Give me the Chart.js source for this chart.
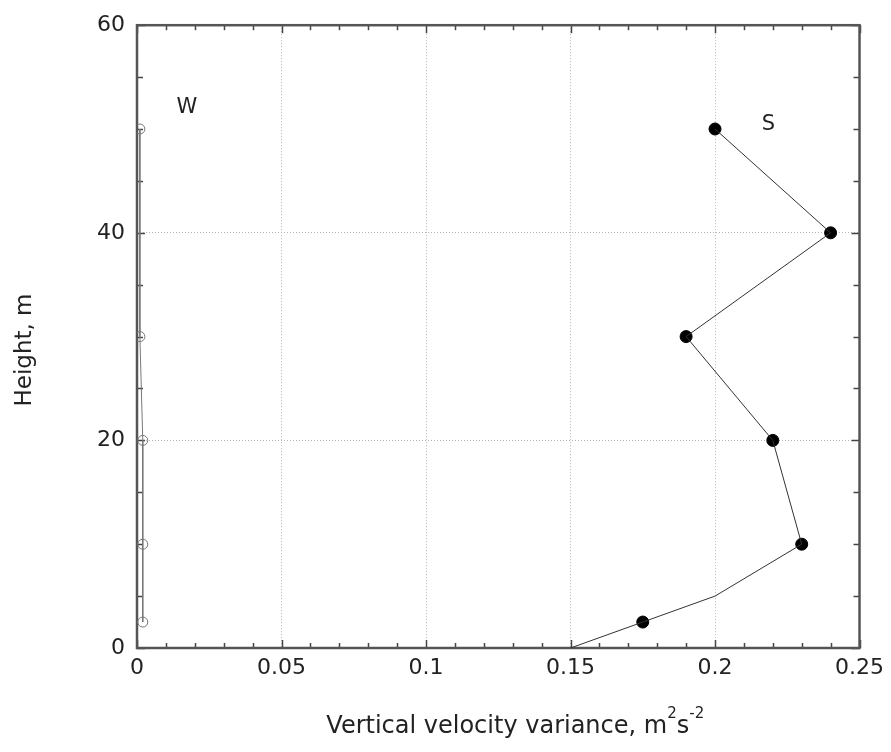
<!DOCTYPE html>
<html>
<head>
<meta charset="utf-8">
<title>Vertical velocity variance profile</title>
<script src="https://cdn.jsdelivr.net/npm/chart.js@4.4.1/dist/chart.umd.min.js"></script>
<style>
  html, body { margin: 0; padding: 0; background: #fff; }
  canvas { display: block; }
</style>
</head>
<body>
<canvas id="profileChart" width="891" height="752"></canvas>
<script>
// measured points, station S (filled markers)
const sHeight = [50, 40, 30, 20, 10, 2.5];
const sVariance = [0.2, 0.24, 0.19, 0.22, 0.23, 0.175];
// S profile line continues down to the ground
const sLineHeight = [50, 40, 30, 20, 10, 5, 2.5, 0];
const sLineVariance = [0.2, 0.24, 0.19, 0.22, 0.23, 0.2, 0.175, 0.15];

// station W (open markers)
const wHeight = [50, 30, 20, 10, 2.5];
const wVariance = [0.001, 0.001, 0.002, 0.002, 0.002];

const xTickValues = [0, 0.05, 0.1, 0.15, 0.2, 0.25];
const yTickValues = [0, 20, 40, 60];
const xMinorStep = 0.01;
const yMinorStep = 5;

const seriesLabels = [
  { text: "W", x: 0.0173, y: 52.1 },
  { text: "S", x: 0.2185, y: 50.4 },
];

const FONT = "'DejaVu Sans', 'Liberation Sans', sans-serif";
const INK = "#222";

const toPoints = (xs, ys) => xs.map((x, i) => ({ x: x, y: ys[i] }));

// frame, inward ticks on all four sides, series names, axis titles
const framePlugin = {
  id: "frame",
  beforeDatasetsDraw(chart) {
    const { ctx, chartArea: a, scales } = chart;
    const xs = scales.x, ys = scales.y;
    ctx.save();
    ctx.strokeStyle = "#444";
    ctx.lineWidth = 1.5;
    const tick = (x1, y1, x2, y2) => {
      ctx.beginPath();
      ctx.moveTo(x1, y1);
      ctx.lineTo(x2, y2);
      ctx.stroke();
    };
    for (let v = 0; v <= 0.25 + 1e-9; v += xMinorStep) {
      const major = xTickValues.some((t) => Math.abs(t - v) < 1e-9);
      const len = major ? 8 : 5;
      const px = Math.round(xs.getPixelForValue(v)) + 0.5;
      tick(px, a.bottom, px, a.bottom - len);
      tick(px, a.top, px, a.top + len);
    }
    for (let v = 0; v <= 60; v += yMinorStep) {
      const major = yTickValues.includes(v);
      const len = major ? 8 : 6;
      const py = Math.round(ys.getPixelForValue(v)) + 0.5;
      tick(a.left, py, a.left + len, py);
      tick(a.right, py, a.right - len, py);
    }
    ctx.strokeStyle = "#555";
    ctx.lineWidth = 2.5;
    ctx.strokeRect(a.left, a.top, a.right - a.left, a.bottom - a.top);
    ctx.restore();
  },
  afterDraw(chart) {
    const { ctx, chartArea: a, scales } = chart;
    ctx.save();
    ctx.fillStyle = INK;
    ctx.font = "21px " + FONT;
    ctx.textAlign = "center";
    ctx.textBaseline = "middle";
    seriesLabels.forEach((l) => {
      ctx.fillText(l.text, scales.x.getPixelForValue(l.x), scales.y.getPixelForValue(l.y));
    });

    // x axis title with superscripts
    const parts = [
      { t: "Vertical velocity variance, m", sup: false },
      { t: "2", sup: true },
      { t: "s", sup: false },
      { t: "-2", sup: true },
    ];
    const big = "24px " + FONT, small = "15px " + FONT;
    let total = 0;
    parts.forEach((p) => {
      ctx.font = p.sup ? small : big;
      p.w = ctx.measureText(p.t).width;
      total += p.w;
    });
    let x = (a.left + a.right) / 2 - total / 2 + 17;
    const base = 733;
    ctx.textAlign = "left";
    ctx.textBaseline = "alphabetic";
    parts.forEach((p) => {
      ctx.font = p.sup ? small : big;
      ctx.fillText(p.t, x, p.sup ? base - 15 : base);
      x += p.w;
    });

    // y axis title
    ctx.font = "23px " + FONT;
    ctx.textAlign = "center";
    ctx.textBaseline = "middle";
    ctx.translate(25, 350);
    ctx.rotate(-Math.PI / 2);
    ctx.fillText("Height, m", 0, 0);
    ctx.restore();
  },
};

new Chart(document.getElementById("profileChart"), {
  type: "scatter",
  data: {
    datasets: [
      {
        label: "S profile",
        data: toPoints(sLineVariance, sLineHeight),
        showLine: true,
        borderColor: "#333",
        borderWidth: 1,
        pointRadius: 0,
      },
      {
        label: "S",
        data: toPoints(sVariance, sHeight),
        showLine: false,
        backgroundColor: "#000",
        borderColor: "#000",
        pointRadius: 6,
      },
      {
        label: "W",
        data: toPoints(wVariance, wHeight),
        showLine: true,
        borderColor: "#777",
        borderWidth: 1,
        backgroundColor: "rgba(0,0,0,0)",
        pointBorderColor: "#777",
        pointBorderWidth: 1,
        pointRadius: 5,
      },
    ],
  },
  options: {
    responsive: false,
    devicePixelRatio: 1,
    animation: false,
    layout: { padding: { top: 24, right: 31, left: 0, bottom: 0 } },
    plugins: {
      legend: { display: false },
      tooltip: { enabled: false },
    },
    scales: {
      x: {
        type: "linear",
        min: 0,
        max: 0.25,
        afterFit: (scale) => { scale.height = 104; },
        afterBuildTicks: (scale) => {
          scale.ticks = xTickValues.map((v) => ({ value: v }));
        },
        ticks: {
          color: INK,
          font: { family: FONT, size: 22 },
          padding: 7,
          maxRotation: 0,
          callback: (v) => String(Number(v.toFixed(2))),
        },
        grid: { color: "#b5b5b5", lineWidth: 1, drawTicks: false },
        border: { display: false, dash: [1, 2] },
      },
      y: {
        type: "linear",
        min: 0,
        max: 60,
        afterFit: (scale) => { scale.width = 137; },
        afterBuildTicks: (scale) => {
          scale.ticks = yTickValues.map((v) => ({ value: v }));
        },
        ticks: {
          color: INK,
          font: { family: FONT, size: 22 },
          padding: 12,
        },
        grid: { color: "#b5b5b5", lineWidth: 1, drawTicks: false },
        border: { display: false, dash: [1, 2] },
      },
    },
  },
  plugins: [framePlugin],
});
</script>
</body>
</html>
